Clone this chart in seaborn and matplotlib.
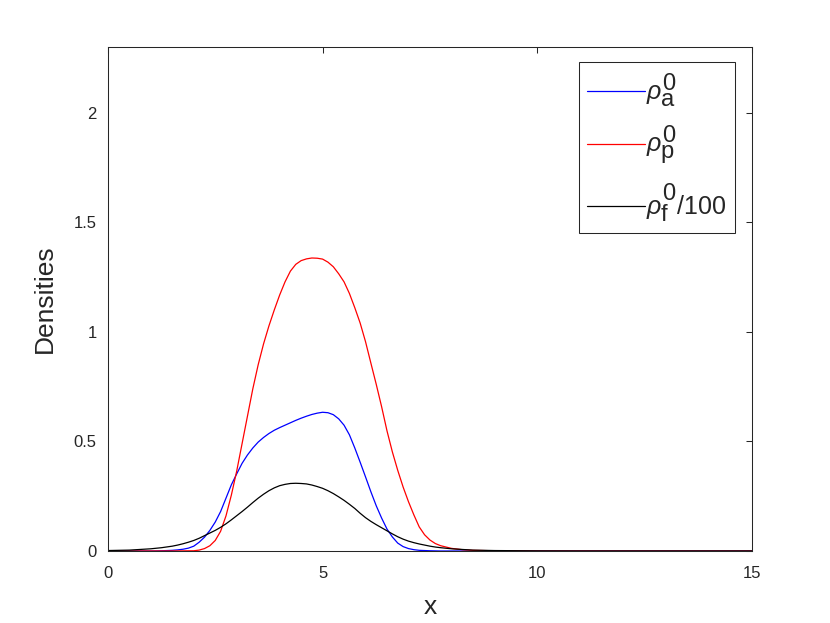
import numpy as np
import pandas as pd
import matplotlib
matplotlib.use("Agg")
import matplotlib.pyplot as plt
import matplotlib._mathtext as mathtext_internal
import seaborn as sns

# values
x_vals = [0, 0.5, 1.0, 1.25, 1.5, 1.625, 1.75, 1.875, 2.0, 2.125, 2.25, 2.375,
          2.5, 2.625, 2.75, 2.875, 3.0, 3.125, 3.25, 3.375, 3.5, 3.625, 3.75,
          3.875, 4.0, 4.125, 4.25, 4.375, 4.5, 4.625, 4.75, 4.875, 5.0, 5.125,
          5.25, 5.375, 5.5, 5.625, 5.75, 5.875, 6.0, 6.125, 6.25, 6.375, 6.5,
          6.625, 6.75, 6.875, 7.0, 7.125, 7.25, 7.375, 7.5, 7.625, 7.75, 8.0,
          8.25, 8.5, 9.0, 10.0, 11.0, 15.0]

rho_a = [0, 0, 0, 0.001, 0.003, 0.005, 0.008, 0.013, 0.022, 0.040, 0.063,
         0.094, 0.132, 0.180, 0.241, 0.302, 0.352, 0.400, 0.438, 0.470, 0.497,
         0.518, 0.536, 0.551, 0.563, 0.574, 0.585, 0.596, 0.606, 0.615, 0.623,
         0.629, 0.633, 0.631, 0.622, 0.603, 0.574, 0.530, 0.470, 0.405, 0.338,
         0.270, 0.206, 0.150, 0.100, 0.064, 0.036, 0.020, 0.011, 0.006, 0.003,
         0.002, 0.001, 0.0005, 0, 0, 0, 0, 0, 0, 0, 0]

rho_p = [0, 0, 0, 0, 0.0002, 0.0003, 0.0005, 0.0008, 0.001, 0.004, 0.011,
         0.024, 0.048, 0.090, 0.160, 0.255, 0.365, 0.490, 0.615, 0.740, 0.850,
         0.945, 1.027, 1.100, 1.168, 1.228, 1.277, 1.308, 1.325, 1.333, 1.337,
         1.336, 1.332, 1.318, 1.297, 1.265, 1.228, 1.175, 1.110, 1.040, 0.955,
         0.857, 0.760, 0.658, 0.548, 0.452, 0.368, 0.292, 0.225, 0.165, 0.110,
         0.074, 0.050, 0.034, 0.024, 0.012, 0.006, 0.003, 0.001, 0, 0, 0]

rho_f = [0.002, 0.004, 0.010, 0.015, 0.022, 0.027, 0.033, 0.040, 0.048, 0.058,
         0.070, 0.082, 0.094, 0.108, 0.124, 0.142, 0.161, 0.180, 0.200, 0.221,
         0.241, 0.259, 0.275, 0.288, 0.298, 0.304, 0.308, 0.309, 0.308, 0.306,
         0.301, 0.294, 0.286, 0.275, 0.262, 0.247, 0.231, 0.213, 0.194, 0.172,
         0.152, 0.135, 0.120, 0.106, 0.092, 0.078, 0.065, 0.054, 0.045, 0.038,
         0.032, 0.027, 0.022, 0.018, 0.015, 0.010, 0.007, 0.004, 0.002, 0.0005,
         0, 0]

labels = [r'$\rho^{\mathrm{0}}_{\mathrm{a}}$',
          r'$\rho^{\mathrm{0}}_{\mathrm{p}}$',
          r'$\rho^{\mathrm{0}}_{\mathrm{f}}\mathrm{/100}$']
colors = ['#0000ff', '#ff0000', '#000000']

sns.set_style('white')
plt.rcParams['font.family'] = ['Liberation Sans', 'DejaVu Sans']
plt.rcParams['mathtext.fontset'] = 'custom'
plt.rcParams['mathtext.rm'] = 'Liberation Sans'
plt.rcParams['mathtext.it'] = 'Liberation Sans:italic'
# MATLAB-style tex keeps sub/superscripts nearly full size
mathtext_internal.SHRINK_FACTOR = 0.95

df = pd.DataFrame({'x': x_vals, 'a': rho_a, 'p': rho_p, 'f': rho_f})

fig = plt.figure(figsize=(8.3, 6.23), dpi=100)
ax = fig.add_axes([0.13, 0.1156, 0.776, 0.809])

for col, lab, c in zip(['a', 'p', 'f'], labels, colors):
    sns.lineplot(data=df, x='x', y=col, color=c, label=lab, linewidth=0.9, ax=ax)

ax.set_xlim(0, 15)
ax.set_ylim(0, 2.3)
ax.set_xticks([0, 5, 10, 15])
ax.set_xticklabels(['0', '5', '10', '15'])
ax.set_yticks([0, 0.5, 1, 1.5, 2])
ax.set_yticklabels(['0', '0.5', '1', '1.5', '2'])

gray = '#262626'
for s in ax.spines.values():
    s.set_visible(True)
    s.set_color(gray)
    s.set_linewidth(0.75)
ax.tick_params(direction='in', length=4.6, width=0.75, color=gray,
               labelcolor=gray, labelsize=12, top=True, right=True)
ax.tick_params(axis='x', pad=11)
ax.tick_params(axis='y', pad=8)

ax.set_xlabel('x', fontsize=19, color=gray, labelpad=10)
ax.set_ylabel('Densities', fontsize=19, color=gray, labelpad=12)

leg = ax.legend(loc='upper right', bbox_to_anchor=(0.9736, 0.970),
                borderaxespad=0, fontsize=18, handlelength=2.3,
                labelspacing=0.6, handletextpad=0.05, borderpad=0.35,
                fancybox=False, framealpha=1)
leg.get_frame().set_edgecolor(gray)
leg.get_frame().set_linewidth(0.75)

fig.savefig('out.png', dpi=100)
plt.close(fig)
